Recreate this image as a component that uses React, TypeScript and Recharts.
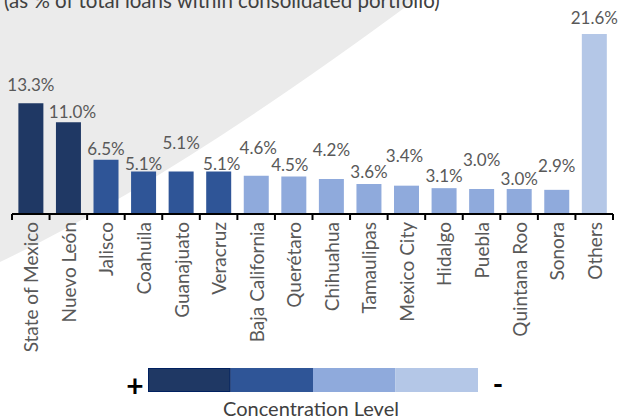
import React from 'react';
import { BarChart, Bar, XAxis, YAxis, Cell } from 'recharts';

const states = [
  'State of Mexico', 'Nuevo León', 'Jalisco', 'Coahuila', 'Guanajuato', 'Veracruz',
  'Baja California', 'Querétaro', 'Chihuahua', 'Tamaulipas', 'Mexico City', 'Hidalgo',
  'Puebla', 'Quintana Roo', 'Sonora', 'Others',
];
const shares = [13.3, 11.0, 6.5, 5.1, 5.1, 5.1, 4.6, 4.5, 4.2, 3.6, 3.4, 3.1, 3.0, 3.0, 2.9, 21.6];
const levels = [0, 0, 1, 1, 1, 1, 2, 2, 2, 2, 2, 2, 2, 2, 2, 3];
const levelColors = ['#1F3864', '#2F5597', '#8FAADC', '#B4C7E7'];
const titleText = '(as % of total loans within consolidated portfolio)';
const legendTitle = 'Concentration Level';

// label placement tweaks (px), mimicking the staggered labels of the original
const labelRaise = [8, 0, 0, -3, 18, -3, 17, 1, 19, 2, 19, 2, 19, 0, 13, 6];
const labelShift = [0, 4, 0, 0, 0, 3, 2, -4, 0, 0, -2, 0, 0, 0, 0, 0];

const data = states.map((s, i) => ({ name: s, value: shares[i], level: levels[i] }));

const W = 620;
const H = 419;
const M = { top: 14, right: 7, left: 12, bottom: 0 };
const BAND = (W - M.left - M.right) / states.length;
const FONT = 'Lato, "Open Sans", sans-serif';
const GREY = '#595959';

const Tick = (props: any) => {
  const { x, y, payload } = props;
  const last = payload.value === states[states.length - 1];
  return (
    <g>
      <line x1={x - BAND / 2} y1={y} x2={x - BAND / 2} y2={y + 6} stroke="#000" strokeWidth={2} />
      {last && <line x1={x + BAND / 2} y1={y} x2={x + BAND / 2} y2={y + 6} stroke="#000" strokeWidth={2} />}
      <text
        transform={`translate(${x},${y + 8}) rotate(-90)`}
        textAnchor="end"
        dominantBaseline="central"
        fontSize={19}
        fontFamily={FONT}
        fill={GREY}
      >
        {payload.value}
      </text>
    </g>
  );
};

const renderLabel = (props: any) => {
  const { x, y, width, value, index } = props;
  const i = typeof index === 'number' ? index : 0;
  return (
    <text
      x={x + width / 2 + labelShift[i]}
      y={y - 11 - labelRaise[i]}
      textAnchor="middle"
      dominantBaseline="central"
      fontSize={17}
      fontFamily={FONT}
      fill={GREY}
    >
      {`${Number(value).toFixed(1)}%`}
    </text>
  );
};

export default function App() {
  const legX = 148;
  const legW = 330;
  const segW = legW / levelColors.length;
  return (
    <div style={{ position: 'absolute', left: 0, top: 0, width: W, height: H, overflow: 'hidden', background: '#fff' }}>
      <svg width={W} height={H} style={{ position: 'absolute', left: 0, top: 0 }}>
        <path d="M0,0 L415,0 Q172,180 0,262 Z" fill="#EBEBEB" />
        <text x={4} y={8} fontSize={20.5} fontFamily={FONT} fill="#404040">{titleText}</text>
      </svg>
      <div style={{ position: 'absolute', left: 0, top: 0 }}>
        <BarChart width={W} height={H} data={data} margin={M} barCategoryGap="17%">
          <YAxis hide domain={[0, 24]} />
          <XAxis
            dataKey="name"
            interval={0}
            tickLine={false}
            tickSize={0}
            tickMargin={0}
            height={205}
            axisLine={{ stroke: '#000', strokeWidth: 2 }}
            tick={<Tick />}
          />
          <Bar dataKey="value" isAnimationActive={false} label={renderLabel}>
            {data.map((d, i) => (
              <Cell key={i} fill={levelColors[d.level]} />
            ))}
          </Bar>
        </BarChart>
      </div>
      <svg width={W} height={H} style={{ position: 'absolute', left: 0, top: 0, pointerEvents: 'none' }}>
        {levelColors.map((c, i) => (
          <rect key={i} x={legX + i * segW} y={368} width={segW} height={24} fill={c} />
        ))}
        <rect x={legX + 0.5} y={368.5} width={segW - 1} height={23} fill="none" stroke="#002060" strokeWidth={1} />
        <text x={135} y={385} textAnchor="middle" dominantBaseline="central" fontSize={30} fontWeight="bold" fontFamily={FONT} fill="#000">+</text>
        <text x={498} y={383} textAnchor="middle" dominantBaseline="central" fontSize={28} fontWeight="bold" fontFamily={FONT} fill="#000">-</text>
        <text x={311} y={416} textAnchor="middle" fontSize={20} fontFamily={FONT} fill="#404040">{legendTitle}</text>
      </svg>
    </div>
  );
}
